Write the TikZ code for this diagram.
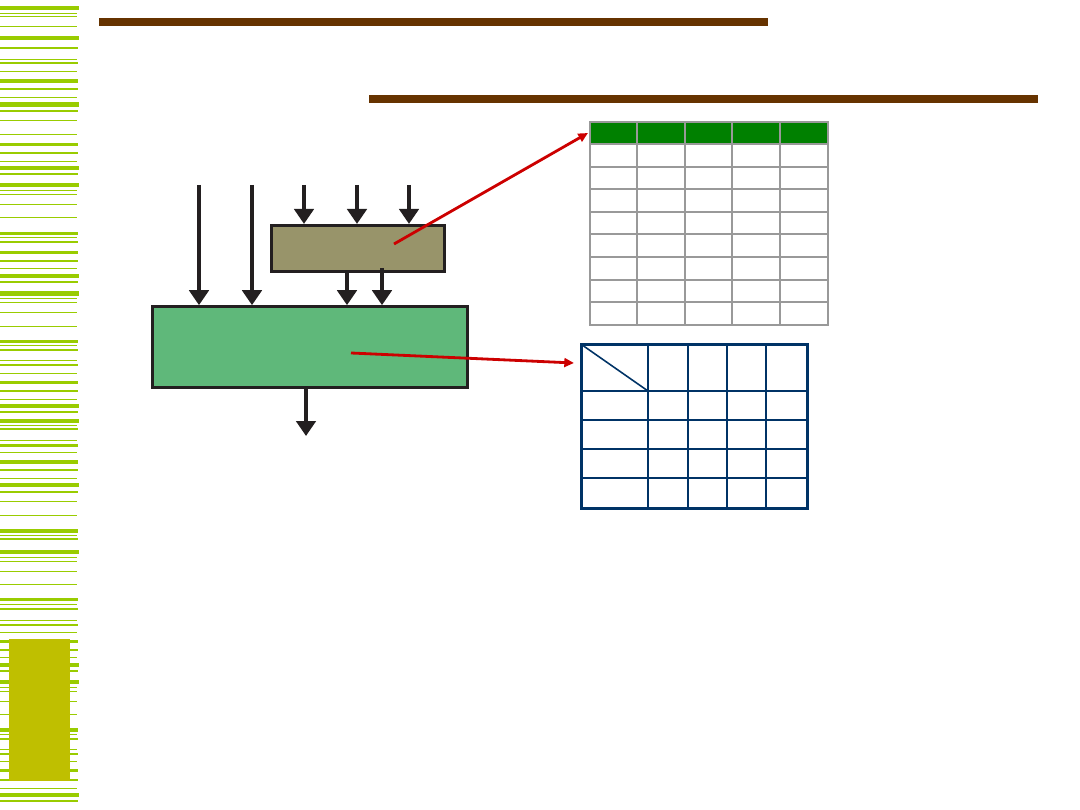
\documentclass[tikz,border=0pt]{standalone}
\usepackage{tikz}
\usetikzlibrary{arrows.meta, calc}
\definecolor{leafgreen}{HTML}{99CC00}
\definecolor{olivebar}{HTML}{BFBF00}
\definecolor{rustbrown}{HTML}{663300}
\definecolor{khaki}{HTML}{98946A}
\definecolor{mixgreen}{HTML}{5FB87A}
\definecolor{headgreen}{HTML}{008000}
\definecolor{navyline}{HTML}{003366}
\definecolor{inkblack}{HTML}{231F20}
\tikzset{
	block/.style={rectangle, draw=inkblack, line width=1.8pt, inner sep=0pt},
	flow/.style={draw=inkblack, line width=2pt, -{Triangle[width=11pt,length=8.5pt]}},
	pointer/.style={draw=red!80!black, line width=1.6pt, -{Triangle[width=5pt,length=5.5pt]}}
}

\begin{document}
\begin{tikzpicture}[
		x=0.02cm, y=-0.02cm,
		stripe/.style={fill=leafgreen},
		bar/.style={fill=rustbrown},
		ggrid/.style={draw=gray!80, line width=0.7pt},
		bgrid/.style={draw=navyline, line width=0.6pt},
		bgridthick/.style={draw=navyline, line width=1.2pt}
		]
		\useasboundingbox (0,0) rectangle (1080,810);
		
		% side stripes
		\foreach \y/\h/\l in {6/4/79, 13/1/77, 16/1.5/77, 26/1.5/77, 36/4/79, 47/2.5/78, 59/1/77, 62/2.5/78, 71/1.5/77, 79/4/78, 88/2.5/78, 97/1.5/77, 102/5/79, 110/2/78, 120/1.5/77, 134/1/77, 143/3/78, 152/2.5/78, 161/1/77, 166/4/79, 173/2/78, 183/4.5/79, 190/1/77, 194/1/77, 204/1/77, 217/1.5/77, 232/3/78, 237/1/77, 241/2/78, 251/3/78, 260/2/78, 268/1/77,
			274/4/79, 281/2/78, 291/5/79, 298/1/77, 302/1/77, 312/1/77, 326/1/77, 340/3/78, 345/1/77, 349/2/78, 360/1.5/77, 364/2/78, 373/1/77, 381/3/78, 390/2/78, 399/1/77, 404/4/79, 411/2/78, 419/4/79, 425/1/77, 428/2/78, 440/1/77, 444/3/78, 452/1.5/77, 460/4/78, 469/2.5/78, 478/1/77, 483/4.5/79, 491/2/78, 501/1.5/77, 515/1/77, 529/4/78, 535/1/77, 538/2/78,
			550/4.5/79, 557/1/77, 561/1/77, 571/1/77, 584/1.5/77, 598/3.5/78, 604/1/77, 608/2/78, 620/1.5/77, 624/2/78, 632/1/77, 640/3/78, 649/2/78, 657/1.5/77, 663/4/79, 670/2/78, 680/4.5/79, 687/1/77, 691/1/77, 701/1/77, 714/1.5/77, 728/4/78, 734/1/77, 738/2.5/78, 749/1/77, 753/2/78, 761/1/77, 769/3.5/78, 779/2/78, 788/1/77, 793/4/79, 800/2/78}
		\fill[stripe] (0,\y) rectangle (\l,\y+\h);
		\fill[olivebar] (9,639) rectangle (70,781);
		
		% title bars
		\fill[bar] (99,18) rectangle (768,26);
		\fill[bar] (369,95) rectangle (1038,103);
		
		% blocks
		\node[block, fill=khaki, minimum width=3.45cm, minimum height=0.92cm] (pre) at (358,248.5) {};
		\node[block, fill=mixgreen, minimum width=6.29cm, minimum height=1.61cm] (main) at (310,347) {};
		
		\coordinate (in1) at (199,185);
		\coordinate (in2) at (252,185);
		\coordinate (in3) at (304,185);
		\coordinate (in4) at (357,185);
		\coordinate (in5) at (409,185);
		\coordinate (mid1) at (347,272);
		\coordinate (mid2) at (382,268);
		\coordinate (out) at (306,436);
		
		\draw[flow] (in1) -- (in1 |- main.north);
		\draw[flow] (in2) -- (in2 |- main.north);
		\draw[flow] (in3) -- (in3 |- pre.north);
		\draw[flow, line width=2.4pt] (in4) -- (in4 |- pre.north);
		\draw[flow] (in5) -- (in5 |- pre.north);
		\draw[flow] (mid1) -- (mid1 |- main.north);
		\draw[flow] (mid2) -- (mid2 |- main.north);
		\draw[flow] (main.south -| out) -- (out);
		
		% green table
		\node[rectangle, minimum width=4.76cm, minimum height=4.06cm, inner sep=0pt] (gtab) at (709,223.5) {};
		\fill[headgreen] (590,122) rectangle (828,144);
		\foreach \x in {637,685,732} \draw[ggrid] (\x,122) -- (\x,325);
		\draw[ggrid, line width=1pt] (780,122) -- (780,325);
		\foreach \y in {144,167,189,212,234,257,280,302} \draw[ggrid] (590,\y) -- (828,\y);
		\draw[draw=gray!80, line width=1.2pt] (gtab.north west) rectangle (gtab.south east);
		
		% blue table
		\node[rectangle, minimum width=4.5cm, minimum height=3.26cm, inner sep=0pt] (btab) at (694.5,426.5) {};
		\foreach \x in {648,727,766} \draw[bgrid] (\x,345) -- (\x,508);
		\draw[bgridthick] (688,345) -- (688,508);
		\foreach \y in {420,449} \draw[bgrid] (582,\y) -- (807,\y);
		\foreach \y in {391,478} \draw[bgridthick] (582,\y) -- (807,\y);
		\draw[bgrid, line width=0.9pt] (btab.north west) -- (648,391);
		\draw[draw=navyline, line width=1.8pt] (btab.north west) rectangle (btab.south east);
		
		% pointers
		\coordinate (prept) at (394,244);
		\coordinate (mainpt) at (351,353);
		\coordinate (gtabin) at (588,133);
		\coordinate (btabin) at (574,363);
		\draw[pointer] (prept) -- (gtabin);
		\draw[pointer] (mainpt) -- (btabin);
		
	\end{tikzpicture}
\end{document}
